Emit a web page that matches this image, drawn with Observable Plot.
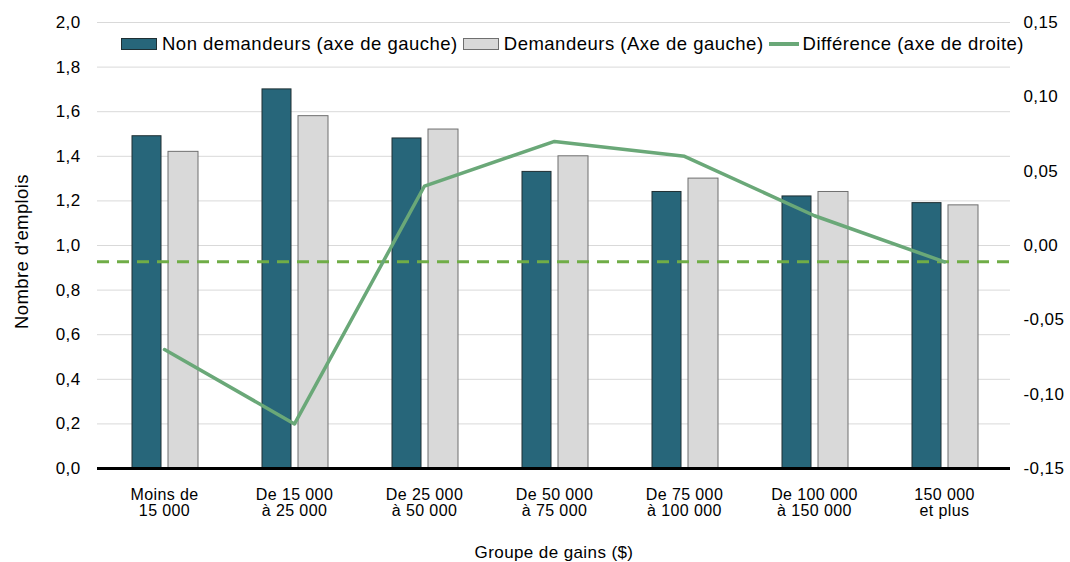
<!DOCTYPE html>
<html>
<head>
<meta charset="utf-8">
<script src="https://cdn.jsdelivr.net/npm/d3@7"></script>
<script src="https://cdn.jsdelivr.net/npm/@observablehq/plot@0.6"></script>
<style>
  html, body { margin: 0; padding: 0; background: #fff; }
  #wrap { position: relative; width: 1070px; height: 562px; font-family: "Liberation Sans", Arial, sans-serif; }
  #legend { position: absolute; top: 33px; left: 121px; display: flex; align-items: center; font-size: 18.5px; color: #000; white-space: nowrap; letter-spacing: 0.5px; }
  .sw { display: inline-block; box-sizing: border-box; margin-right: 5px; }
  .item { display: flex; align-items: center; margin-right: 5px; }
</style>
</head>
<body>
<div id="wrap">
  <div id="chart"></div>
  <div id="legend"></div>
</div>
<script>
const categories = [
  "Moins de\n15 000",
  "De 15 000\nà 25 000",
  "De 25 000\nà 50 000",
  "De 50 000\nà 75 000",
  "De 75 000\nà 100 000",
  "De 100 000\nà 150 000",
  "150 000\net plus"
];
const nonDemandeurs = [1.49, 1.70, 1.48, 1.33, 1.24, 1.22, 1.19];
const demandeurs    = [1.42, 1.58, 1.52, 1.40, 1.30, 1.24, 1.18];
const difference    = [-0.07, -0.12, 0.04, 0.07, 0.06, 0.02, -0.011];
const referenceDiff = -0.011;
const leftTicks  = [0, 0.2, 0.4, 0.6, 0.8, 1.0, 1.2, 1.4, 1.6, 1.8, 2.0];
const rightTicks = [-0.15, -0.10, -0.05, 0, 0.05, 0.10, 0.15];
const seriesNames = ["Non demandeurs (axe de gauche)", "Demandeurs (Axe de gauche)", "Différence (axe de droite)"];
const yTitle = "Nombre d'emplois";
const xTitle = "Groupe de gains ($)";

const leftDomain = [0, 2.0];
const rightDomain = [-0.15, 0.15];
const toLeft = v => leftDomain[0] + (v - rightDomain[0]) / (rightDomain[1] - rightDomain[0]) * (leftDomain[1] - leftDomain[0]);
const fromLeft = v => rightDomain[0] + (v - leftDomain[0]) / (leftDomain[1] - leftDomain[0]) * (rightDomain[1] - rightDomain[0]);

const fmt1 = d => d.toFixed(1).replace(".", ",");
const fmt2 = d => { const r = Math.round(d * 100) / 100; return (Math.abs(r) < 1e-9 ? 0 : r).toFixed(2).replace(".", ","); };

const COL_DARK = "#27667a";
const COL_GREY = "#d9d9d9";
const COL_LINE = "#6aa878";
const COL_DASH = "#70ad47";

const barsA = categories.map((c, i) => ({cat: c, v: nonDemandeurs[i]}));
const barsB = categories.map((c, i) => ({cat: c, v: demandeurs[i]}));
const lineD = categories.map((c, i) => ({cat: c, v: toLeft(difference[i])}));

const chart = Plot.plot({
  width: 1070,
  height: 562,
  marginLeft: 97,
  marginRight: 60,
  marginTop: 22,
  marginBottom: 94,
  style: {fontFamily: "'Liberation Sans', Arial, sans-serif", fontSize: "17px", color: "#000", background: "#fff", letterSpacing: "0.4px"},
  x: {domain: categories, padding: 0},
  y: {domain: leftDomain},
  marks: [
    Plot.ruleY(leftTicks.filter(d => d > 0), {stroke: "#d9d9d9", strokeWidth: 1}),
    Plot.barY(barsA, {x: "cat", y: "v", fill: COL_DARK, stroke: "#1f2f33", strokeWidth: 1, insetLeft: 33, insetRight: 68}),
    Plot.barY(barsB, {x: "cat", y: "v", fill: COL_GREY, stroke: "#6f6f6f", strokeWidth: 1, insetLeft: 69, insetRight: 31}),
    Plot.ruleY([0], {stroke: "#000", strokeWidth: 3}),
    Plot.ruleY([toLeft(referenceDiff)], {stroke: COL_DASH, strokeWidth: 3, strokeDasharray: "12,8"}),
    Plot.lineY(lineD, {x: "cat", y: "v", stroke: COL_LINE, strokeWidth: 3.5}),
    Plot.axisY({anchor: "left", ticks: leftTicks, tickFormat: fmt1, tickSize: 0, tickPadding: 17, label: null, fontSize: 17}),
    Plot.axisY({anchor: "right", ticks: rightTicks.map(toLeft), tickFormat: d => fmt2(fromLeft(d)), tickSize: 0, tickPadding: 13, label: null, fontSize: 17}),
    Plot.axisX({tickSize: 0, tickPadding: 20, fontSize: 16, label: null}),
    Plot.text([yTitle], {frameAnchor: "left", dx: -75, dy: 6, rotate: -90, fontSize: 18.5, textAnchor: "middle", lineAnchor: "middle"}),
    Plot.text([xTitle], {frameAnchor: "bottom", dy: 84, fontSize: 17, textAnchor: "middle", lineAnchor: "middle"})
  ]
});
document.getElementById("chart").appendChild(chart);

const legend = document.getElementById("legend");
const swatches = [
  `<span class="sw" style="width:36px;height:12px;background:${COL_DARK};border:1px solid #1f2f33"></span>`,
  `<span class="sw" style="width:36px;height:12px;background:${COL_GREY};border:1px solid #6f6f6f"></span>`,
  `<span class="sw" style="width:30px;height:3.5px;background:${COL_LINE};margin-right:4px"></span>`
];
seriesNames.forEach((name, i) => {
  const el = document.createElement("span");
  el.className = "item";
  el.innerHTML = swatches[i] + `<span>${name}</span>`;
  legend.appendChild(el);
});
</script>
</body>
</html>
